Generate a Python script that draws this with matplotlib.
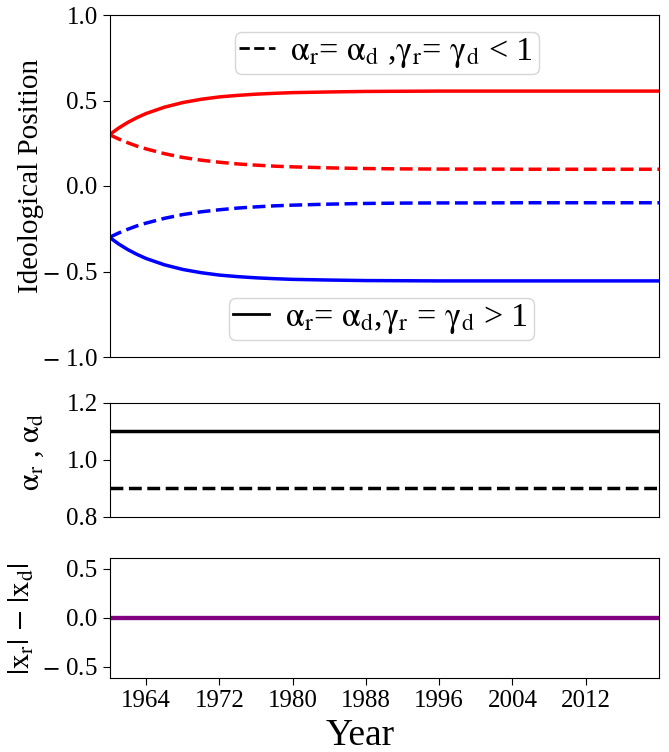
import matplotlib
matplotlib.use("Agg")
import matplotlib.pyplot as plt
from matplotlib.lines import Line2D
from matplotlib.ticker import FuncFormatter

plt.rcParams['font.family'] = ['Liberation Serif', 'DejaVu Serif']
plt.rcParams['mathtext.fontset'] = 'stix'
plt.rcParams['mathtext.default'] = 'rm'

years = [1960, 1961, 1962, 1963, 1964, 1966, 1968, 1970, 1972, 1974, 1976,
         1978, 1980, 1984, 1988, 1992, 1996, 2000, 2005, 2010, 2015, 2020]
rep_high = [0.300, 0.339, 0.372, 0.400, 0.424, 0.461, 0.488, 0.507, 0.521, 0.530,
            0.537, 0.542, 0.546, 0.550, 0.553, 0.554, 0.555, 0.555, 0.555, 0.555,
            0.555, 0.555]
rep_low = [0.300, 0.275, 0.253, 0.233, 0.217, 0.189, 0.167, 0.151, 0.139, 0.129,
           0.122, 0.116, 0.112, 0.106, 0.102, 0.100, 0.099, 0.099, 0.098, 0.098,
           0.098, 0.098]
dem_high = [-0.300, -0.339, -0.372, -0.400, -0.424, -0.461, -0.488, -0.507, -0.521, -0.530,
            -0.537, -0.542, -0.546, -0.550, -0.553, -0.554, -0.555, -0.555, -0.555, -0.555,
            -0.555, -0.555]
dem_low = [-0.300, -0.275, -0.253, -0.233, -0.217, -0.189, -0.167, -0.151, -0.139, -0.129,
           -0.122, -0.116, -0.112, -0.106, -0.102, -0.100, -0.099, -0.099, -0.098, -0.098,
           -0.098, -0.098]
alpha_high = [1.1] * len(years)
alpha_low = [0.9] * len(years)
diff_high = [0.0] * len(years)
diff_low = [0.0] * len(years)

xticks = [1964, 1972, 1980, 1988, 1996, 2004, 2012]

W, H = 669, 752
fig = plt.figure(figsize=(W / 100, H / 100), dpi=100)

def ax_px(left, top, right, bottom):
    return fig.add_axes([left / W, 1 - bottom / H, (right - left) / W, (bottom - top) / H])

ax1 = ax_px(109.5, 15, 659, 357)
ax2 = ax_px(109.5, 402.7, 659, 516.7)
ax3 = ax_px(109.5, 557.7, 659, 677.7)

lw = 2.5
ax1.plot(years, rep_high, color='red', lw=lw, ls='-')
ax1.plot(years, rep_low, color='red', lw=lw, ls='--')
ax1.plot(years, dem_high, color='blue', lw=lw, ls='-')
ax1.plot(years, dem_low, color='blue', lw=lw, ls='--')
ax1.set_ylim(-1.0, 1.0)
ax1.set_yticks([-1.0, -0.5, 0.0, 0.5, 1.0])

ax2.plot(years, alpha_high, color='black', lw=lw, ls='-')
ax2.plot(years, alpha_low, color='black', lw=lw, ls='--')
ax2.set_ylim(0.8, 1.2)
ax2.set_yticks([0.8, 1.0, 1.2])

ax3.plot(years, diff_high, color='purple', lw=3)
ax3.plot(years, diff_low, color='purple', lw=3)
ax3.set_ylim(-0.61, 0.61)
ax3.set_yticks([-0.5, 0.0, 0.5])

def yfmt(v, pos):
    if v < -1e-9:
        return r'$-$ ' + f'{abs(v):.1f}'
    return f'{abs(v):.1f}'

for ax in (ax1, ax2, ax3):
    ax.set_xlim(1960, 2020)
    ax.set_xticks(xticks)
    ax.yaxis.set_major_formatter(FuncFormatter(yfmt))
    ax.tick_params(labelsize=18, direction='out', length=5)
for ax in (ax1, ax2):
    ax.tick_params(axis='x', bottom=False, labelbottom=False)

h_dash = Line2D([], [], color='black', lw=2, ls='--')
h_solid = Line2D([], [], color='black', lw=2, ls='-')
leg1 = ax1.legend([h_dash], [r'$\alpha_r$= $\alpha_d$ ,$\gamma_r$= $\gamma_d$ < 1 '],
                  loc='upper center', fontsize=24.5, handlelength=1.05, handletextpad=0.45,
                  borderpad=0.12, bbox_to_anchor=(0.505, 1.0))
ax1.add_artist(leg1)
ax1.legend([h_solid], [r'$\alpha_r$= $\alpha_d$,$\gamma_r$ = $\gamma_d$ > 1 '],
           loc='lower center', fontsize=24.5, handlelength=1.05, handletextpad=0.45,
           borderpad=0.12, bbox_to_anchor=(0.495, 0.0))

fig.text(31 / W, 1 - 176 / H, 'Ideological Position', rotation=90, fontsize=21,
         ha='center', va='center')
fig.text(31 / W, 1 - 452 / H, r'$\alpha_r$ , $\alpha_d$', rotation=90, fontsize=22,
         ha='center', va='center')
fig.text(22 / W, 1 - 619 / H, r'$|x_r|$ $-$ $|x_d|$', rotation=90, fontsize=22,
         ha='center', va='center')
fig.text(360 / W, 1 - 736 / H, 'Year', fontsize=27, ha='center', va='center')

fig.savefig('out.png', dpi=100)
